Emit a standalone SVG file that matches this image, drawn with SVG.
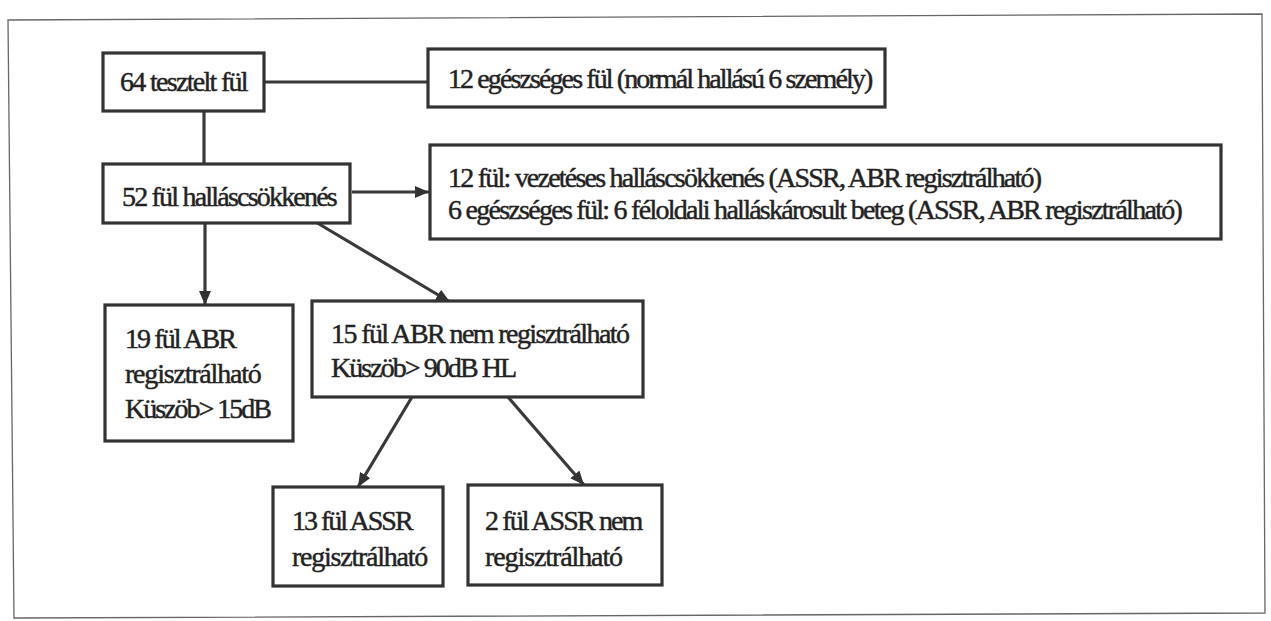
<svg xmlns="http://www.w3.org/2000/svg" width="1271" height="621" viewBox="0 0 1271 621">
<style>
.box{fill:#fff;stroke:#333;stroke-width:3.2}
.t{font-family:"Liberation Serif","Times New Roman",serif;font-size:28px;fill:#222;stroke:#222;stroke-width:0.45}
.c{stroke:#3a3a3a;stroke-width:3.2;fill:none}
.frame{fill:none;stroke:#666;stroke-width:1.3}
</style>
<defs>
<marker id="ah" markerUnits="userSpaceOnUse" markerWidth="16" markerHeight="14" refX="14" refY="6" orient="auto">
<path d="M0,0 L14,6 L0,12 Z" fill="#333"/>
</marker>
</defs>
<rect width="1271" height="621" fill="#fff"/>
<path class="frame" d="M8,20 L1262,14 L1265,613 L14,618 Z"/>
<g id="connectors">
<line class="c" x1="264" y1="82" x2="428" y2="82"/>
<line class="c" x1="204" y1="111" x2="204" y2="164"/>
<line class="c" x1="352" y1="192" x2="429" y2="192" marker-end="url(#ah)"/>
<line class="c" x1="205" y1="223" x2="205" y2="305" marker-end="url(#ah)"/>
<line class="c" x1="314" y1="221" x2="450" y2="302" marker-end="url(#ah)"/>
<line class="c" x1="412" y1="397" x2="358" y2="487" marker-end="url(#ah)"/>
<line class="c" x1="508" y1="397" x2="584" y2="485" marker-end="url(#ah)"/>
</g>
<g id="n1">
<rect class="box" x="103" y="53" width="161" height="58"/>
<text class="t" x="120" y="91" style="letter-spacing:-1.7px">64 tesztelt fül</text>
</g>
<g id="n2">
<rect class="box" x="428" y="49" width="457" height="58"/>
<text class="t" x="448" y="88" style="letter-spacing:-1.9px">12 egészséges fül (normál hallású 6 személy)</text>
</g>
<g id="n3">
<rect class="box" x="103" y="164" width="247" height="59"/>
<text class="t" x="122" y="206" style="letter-spacing:-1.8px">52 fül halláscsökkenés</text>
</g>
<g id="n4">
<rect class="box" x="430" y="145" width="791" height="94"/>
<text class="t" x="448" y="187" style="letter-spacing:-1.78px">12 fül: vezetéses halláscsökkenés (ASSR, ABR regisztrálható)</text>
<text class="t" x="448" y="219" style="letter-spacing:-1.73px">6 egészséges fül: 6 féloldali halláskárosult beteg (ASSR, ABR regisztrálható)</text>
</g>
<g id="n5">
<rect class="box" x="105" y="305" width="188" height="136"/>
<text class="t" x="125" y="348" style="letter-spacing:-1.9px">19 fül ABR</text>
<text class="t" x="125" y="383" style="letter-spacing:-1.2px">regisztrálható</text>
<text class="t" x="125" y="418" style="letter-spacing:-2px">Küszöb&gt; 15dB</text>
</g>
<g id="n6">
<rect class="box" x="312" y="301" width="331" height="96"/>
<text class="t" x="331" y="343" style="letter-spacing:-1.6px">15 fül ABR nem regisztrálható</text>
<text class="t" x="331" y="377" style="letter-spacing:-1.95px">Küszöb&gt; 90dB HL</text>
</g>
<g id="n7">
<rect class="box" x="273" y="487" width="170" height="99"/>
<text class="t" x="292" y="530" style="letter-spacing:-2px">13 fül ASSR</text>
<text class="t" x="292" y="566" style="letter-spacing:-1.24px">regisztrálható</text>
</g>
<g id="n8">
<rect class="box" x="468" y="485" width="194" height="100"/>
<text class="t" x="485" y="530" style="letter-spacing:-1.88px">2 fül ASSR nem</text>
<text class="t" x="485" y="566" style="letter-spacing:-1.1px">regisztrálható</text>
</g>
</svg>
